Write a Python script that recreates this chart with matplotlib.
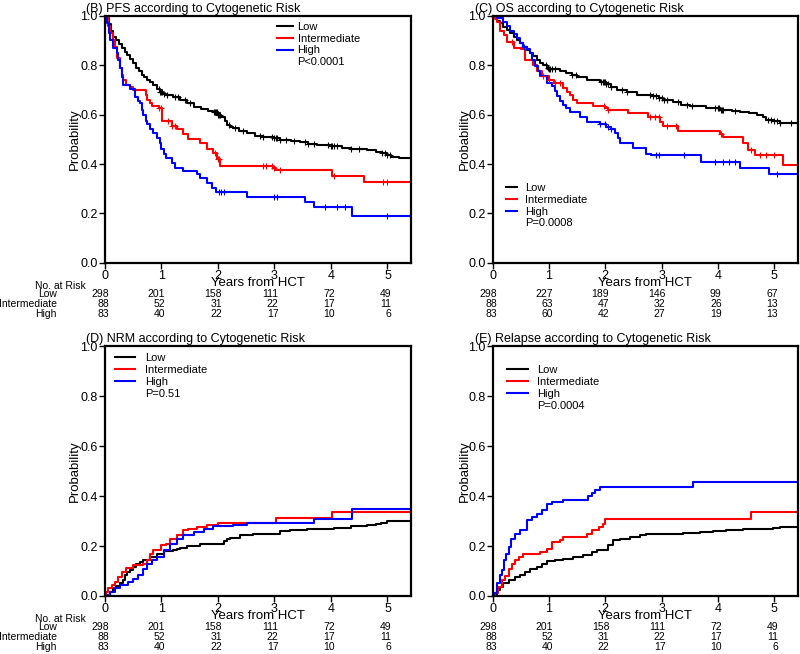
import numpy as np
import matplotlib
matplotlib.use("Agg")
import matplotlib.pyplot as plt
from matplotlib.lines import Line2D

plt.rcParams['font.family'] = ['Liberation Sans', 'DejaVu Sans']

groups = ['Low', 'Intermediate', 'High']
colores = ['black', 'red', 'blue']
years = [0, 1, 2, 3, 4, 5]

# PFS (B)
pfs_low_t = [0, 0.03, 0.07, 0.11, 0.15, 0.2, 0.25, 0.3, 0.35, 0.4, 0.45, 0.5, 0.55, 0.6, 0.65, 0.7, 0.75, 0.8,
             0.86, 0.92, 0.97, 1.03, 1.09, 1.2, 1.33, 1.45, 1.57, 1.7, 1.82, 1.92, 2.0, 2.06, 2.12, 2.16, 2.22,
             2.27, 2.38, 2.51, 2.65, 2.8, 3.0, 3.1, 3.3, 3.46, 3.6, 3.76, 4.0, 4.2, 4.35, 4.64, 4.8, 4.9, 5.0,
             5.06, 5.2]
pfs_low_s = [1.0, 0.99, 0.965, 0.94, 0.915, 0.9, 0.885, 0.87, 0.855, 0.84, 0.825, 0.808, 0.79, 0.775, 0.76,
             0.75, 0.74, 0.73, 0.72, 0.705, 0.693, 0.685, 0.678, 0.67, 0.66, 0.645, 0.632, 0.622, 0.615, 0.61,
             0.6, 0.59, 0.575, 0.558, 0.55, 0.545, 0.533, 0.524, 0.515, 0.51, 0.505, 0.498, 0.493, 0.49, 0.483,
             0.478, 0.473, 0.465, 0.46, 0.457, 0.45, 0.445, 0.437, 0.43, 0.423]
pfs_int_t = [0, 0.06, 0.09, 0.14, 0.18, 0.22, 0.27, 0.3, 0.33, 0.38, 0.45, 0.5, 0.72, 0.75, 0.8, 0.83, 0.95,
             1.02, 1.18, 1.27, 1.39, 1.48, 1.69, 1.8, 1.92, 1.99, 2.04, 2.98, 3.02, 4.02, 4.59]
pfs_int_s = [1.0, 0.96, 0.93, 0.9, 0.875, 0.83, 0.79, 0.76, 0.74, 0.72, 0.71, 0.7, 0.68, 0.66, 0.645, 0.635,
             0.625, 0.575, 0.555, 0.54, 0.52, 0.5, 0.485, 0.46, 0.445, 0.42, 0.393, 0.385, 0.377, 0.353, 0.326]
pfs_high_t = [0, 0.04, 0.07, 0.1, 0.15, 0.21, 0.24, 0.27, 0.31, 0.33, 0.45, 0.53, 0.58, 0.62, 0.66, 0.68,
              0.72, 0.74, 0.8, 0.86, 0.92, 0.97, 1.0, 1.05, 1.09, 1.18, 1.24, 1.39, 1.63, 1.69, 1.8, 1.89,
              1.97, 2.51, 3.55, 3.7, 4.38]
pfs_high_s = [1.0, 0.97, 0.93, 0.9, 0.87, 0.85, 0.82, 0.79, 0.75, 0.72, 0.705, 0.67, 0.655, 0.645, 0.62, 0.6,
              0.575, 0.56, 0.54, 0.525, 0.505, 0.485, 0.46, 0.44, 0.425, 0.405, 0.385, 0.37, 0.36, 0.343,
              0.323, 0.303, 0.285, 0.266, 0.246, 0.226, 0.19]
pfs_low_cens = [0.95, 0.98, 1.0, 1.02, 1.05, 1.1, 1.25, 1.3, 1.42, 1.5, 1.93, 1.95, 1.97, 1.99, 2.0, 2.02,
                2.04, 2.2, 2.3, 2.45, 2.75, 2.8, 2.95, 3.0, 3.02, 3.05, 3.1, 3.2, 3.35, 3.55, 3.6, 3.7, 3.95,
                4.0, 4.02, 4.05, 4.1, 4.35, 4.5, 4.9, 4.95, 5.0, 5.05]
pfs_int_cens = [0.95, 1.0, 1.12, 1.18, 1.25, 1.95, 2.0, 2.02, 2.8, 2.85, 2.95, 3.0, 3.1, 4.05, 4.92, 5.0]
pfs_high_cens = [2.02, 2.05, 2.1, 3.0, 3.05, 3.9, 4.1, 4.25, 5.0]

# OS (C)
os_low_t = [0, 0.04, 0.07, 0.13, 0.19, 0.25, 0.31, 0.37, 0.43, 0.49, 0.54, 0.6, 0.66, 0.72, 0.78, 0.84, 0.9,
            0.96, 1.0, 1.2, 1.31, 1.4, 1.49, 1.67, 1.9, 2.02, 2.1, 2.2, 2.38, 2.56, 2.85, 2.95, 3.03, 3.21,
            3.35, 3.5, 3.8, 4.04, 4.25, 4.39, 4.55, 4.69, 4.8, 4.86, 5.0, 5.1]
os_low_s = [1.0, 0.99, 0.98, 0.97, 0.955, 0.943, 0.93, 0.915, 0.9, 0.888, 0.875, 0.862, 0.85, 0.835, 0.82,
            0.81, 0.8, 0.79, 0.785, 0.778, 0.77, 0.76, 0.75, 0.74, 0.73, 0.723, 0.71, 0.7, 0.69, 0.68, 0.675,
            0.668, 0.66, 0.65, 0.64, 0.635, 0.625, 0.62, 0.615, 0.61, 0.605, 0.6, 0.59, 0.58, 0.573, 0.565]
os_int_t = [0, 0.04, 0.07, 0.12, 0.2, 0.25, 0.37, 0.51, 0.57, 0.72, 0.78, 0.87, 1.0, 1.08, 1.25, 1.32, 1.37,
            1.43, 1.49, 1.79, 1.99, 2.05, 2.41, 2.76, 2.97, 3.03, 3.3, 4.04, 4.09, 4.45, 4.54, 4.66, 5.16]
os_int_s = [1.0, 0.985, 0.975, 0.94, 0.92, 0.895, 0.87, 0.865, 0.82, 0.8, 0.775, 0.755, 0.74, 0.727, 0.707,
            0.69, 0.68, 0.66, 0.645, 0.635, 0.625, 0.62, 0.605, 0.59, 0.57, 0.555, 0.535, 0.52, 0.51, 0.485,
            0.455, 0.435, 0.395]
os_high_t = [0, 0.07, 0.19, 0.25, 0.31, 0.37, 0.43, 0.49, 0.54, 0.6, 0.66, 0.7, 0.75, 0.8, 0.84, 0.96, 1.05,
             1.1, 1.14, 1.2, 1.25, 1.3, 1.37, 1.55, 1.67, 1.9, 2.02, 2.1, 2.17, 2.22, 2.26, 2.5, 2.73, 2.82,
             3.71, 4.39, 4.92]
os_high_s = [1.0, 0.99, 0.975, 0.96, 0.94, 0.925, 0.91, 0.89, 0.875, 0.865, 0.85, 0.82, 0.795, 0.775, 0.755,
             0.727, 0.715, 0.695, 0.675, 0.655, 0.64, 0.625, 0.61, 0.59, 0.57, 0.56, 0.55, 0.54, 0.525, 0.505,
             0.485, 0.465, 0.44, 0.435, 0.41, 0.385, 0.36]
os_low_cens = [0.95, 0.98, 1.0, 1.02, 1.05, 1.1, 1.4, 1.48, 1.93, 1.96, 1.98, 2.0, 2.02, 2.05, 2.1, 2.3, 2.38,
               2.8, 2.85, 2.9, 2.95, 3.0, 3.05, 3.1, 3.3, 3.45, 3.55, 3.95, 4.0, 4.02, 4.05, 4.08, 4.1, 4.3,
               4.9, 4.95, 5.0, 5.05, 5.1, 5.3]
os_int_cens = [0.35, 0.9, 1.0, 1.1, 1.2, 1.98, 2.05, 2.8, 2.88, 2.95, 3.1, 3.25, 4.05, 4.6, 4.75, 4.85, 5.0]
os_high_cens = [0.55, 1.9, 2.0, 2.05, 2.1, 2.9, 2.95, 3.4, 3.95, 4.1, 4.2, 4.3, 5.05]

# NRM (D)
nrm_low_t = [0, 0.05, 0.1, 0.15, 0.2, 0.27, 0.32, 0.36, 0.4, 0.44, 0.5, 0.56, 0.62, 0.68, 0.8, 0.92, 1.04,
             1.21, 1.27, 1.33, 1.45, 1.69, 1.98, 2.1, 2.16, 2.22, 2.4, 2.63, 2.99, 3.1, 3.28, 3.58, 4.05, 4.35,
             4.64, 4.8, 4.88, 5.0]
nrm_low_s = [0, 0.005, 0.015, 0.03, 0.04, 0.05, 0.065, 0.085, 0.095, 0.104, 0.117, 0.13, 0.138, 0.144, 0.157,
             0.17, 0.18, 0.183, 0.19, 0.194, 0.202, 0.208, 0.21, 0.22, 0.228, 0.234, 0.243, 0.247, 0.25, 0.26,
             0.266, 0.27, 0.274, 0.28, 0.283, 0.288, 0.293, 0.3]
nrm_int_t = [0, 0.02, 0.06, 0.12, 0.18, 0.24, 0.3, 0.38, 0.5, 0.68, 0.74, 0.8, 0.86, 1.0, 1.09, 1.15, 1.27,
             1.39, 1.48, 1.63, 1.8, 2.01, 3.02, 4.02]
nrm_int_s = [0, 0.017, 0.03, 0.044, 0.057, 0.077, 0.097, 0.114, 0.124, 0.13, 0.144, 0.17, 0.184, 0.204, 0.21,
             0.23, 0.244, 0.264, 0.27, 0.277, 0.284, 0.294, 0.313, 0.337]
nrm_high_t = [0, 0.05, 0.09, 0.18, 0.27, 0.41, 0.5, 0.59, 0.68, 0.74, 0.83, 0.92, 1.04, 1.15, 1.27, 1.39,
              1.57, 1.75, 1.92, 2.27, 2.51, 3.7, 4.38]
nrm_high_s = [0, 0.004, 0.017, 0.03, 0.044, 0.057, 0.07, 0.084, 0.11, 0.13, 0.144, 0.157, 0.184, 0.21, 0.23,
              0.244, 0.257, 0.27, 0.28, 0.284, 0.293, 0.31, 0.347]

# Relapse (E)
rel_low_t = [0, 0.04, 0.07, 0.13, 0.19, 0.28, 0.4, 0.49, 0.57, 0.66, 0.78, 0.87, 0.96, 1.1, 1.25, 1.43, 1.61,
             1.76, 1.85, 1.96, 2.05, 2.14, 2.26, 2.44, 2.62, 2.73, 3.38, 3.68, 3.92, 4.15, 4.45, 4.98, 5.1]
rel_low_s = [0, 0.005, 0.024, 0.037, 0.05, 0.064, 0.075, 0.084, 0.097, 0.107, 0.117, 0.13, 0.14, 0.146, 0.15,
             0.157, 0.166, 0.176, 0.184, 0.186, 0.204, 0.224, 0.23, 0.237, 0.244, 0.247, 0.253, 0.257, 0.26,
             0.266, 0.27, 0.274, 0.277]
rel_int_t = [0, 0.04, 0.1, 0.16, 0.22, 0.28, 0.34, 0.4, 0.46, 0.54, 0.84, 0.96, 1.05, 1.2, 1.25, 1.67, 1.76,
             1.88, 1.96, 2.0, 4.6]
rel_int_s = [0, 0.01, 0.037, 0.064, 0.08, 0.11, 0.13, 0.144, 0.157, 0.167, 0.176, 0.19, 0.217, 0.224, 0.237,
             0.25, 0.264, 0.277, 0.29, 0.31, 0.337]
rel_high_t = [0, 0.03, 0.07, 0.12, 0.16, 0.2, 0.24, 0.28, 0.32, 0.4, 0.49, 0.6, 0.69, 0.78, 0.87, 0.96, 1.05,
              1.25, 1.7, 1.76, 1.82, 1.9, 3.56]
rel_high_s = [0, 0.01, 0.05, 0.084, 0.104, 0.144, 0.17, 0.197, 0.23, 0.247, 0.264, 0.304, 0.317, 0.33, 0.344,
              0.368, 0.377, 0.386, 0.4, 0.413, 0.424, 0.437, 0.457]

# numero en riesgo
pfs_risk = [[298, 201, 158, 111, 72, 49], [88, 52, 31, 22, 17, 11], [83, 40, 22, 17, 10, 6]]
os_risk = [[298, 227, 189, 146, 99, 67], [88, 63, 47, 32, 26, 13], [83, 60, 42, 27, 19, 13]]
nrm_risk = pfs_risk
rel_risk = pfs_risk


def valor_en(t, s, c):
    idx = np.searchsorted(t, c, side='right') - 1
    return np.array(s)[idx]


def panel(ax, titulo, curvas, censuras, riesgo, pval, leg_pos, leg_len, leg_pad, con_etiquetas, ylab_x):
    for (t, s), col in zip(curvas, colores):
        ax.step(t + [5.45], s + [s[-1]], where='post', color=col, lw=1.5)
    for (t, s), c, col in zip(curvas, censuras, colores):
        if c:
            ax.plot(c, valor_en(t, s, c), ls='none', marker='+', ms=5, mew=0.8, color=col)

    ax.set_xlim(0, 5.42)
    ax.set_ylim(0, 1)
    ax.set_xticks(years)
    ax.set_yticks([0, 0.2, 0.4, 0.6, 0.8, 1.0])
    ax.set_yticklabels(['0.0', '0.2', '0.4', '0.6', '0.8', '1.0'])
    ax.tick_params(direction='out', length=4, width=1, labelsize=9, pad=1)
    for sp in ax.spines.values():
        sp.set_linewidth(1.6)

    ax.text(-0.06, 1.003, titulo, transform=ax.transAxes, ha='left', va='bottom', fontsize=9)
    ax.text(ylab_x, 0.5, 'Probability', transform=ax.transAxes, rotation=90,
            ha='center', va='center', fontsize=9.5)
    ax.text(0.5, -0.081, 'Years from HCT', transform=ax.transAxes, ha='center', va='center', fontsize=9.5)

    handles = [Line2D([], [], color=c, lw=1.5) for c in colores]
    handles.append(Line2D([], [], color='none'))
    ax.legend(handles, groups + [pval], loc='upper left', bbox_to_anchor=leg_pos, frameon=False,
              fontsize=8, handlelength=leg_len, handletextpad=leg_pad, labelspacing=0.17,
              borderpad=0, borderaxespad=0)

    offs = [-31, -41, -51]
    if con_etiquetas:
        ax.annotate('No. at Risk', xy=(0, 0), xycoords=('data', 'axes fraction'), xytext=(-70, -23),
                    textcoords='offset pixels', ha='left', va='center', fontsize=7.5, annotation_clip=False)
    for fila, nombre, dy in zip(riesgo, groups, offs):
        if con_etiquetas:
            ax.annotate(nombre, xy=(0, 0), xycoords=('data', 'axes fraction'), xytext=(-48, dy),
                        textcoords='offset pixels', ha='right', va='center', fontsize=7.5,
                        annotation_clip=False)
        for yr, n in zip(years, fila):
            ax.annotate(str(n), xy=(yr, 0), xycoords=('data', 'axes fraction'), xytext=(4, dy),
                        textcoords='offset pixels', ha='right', va='center', fontsize=7.5,
                        annotation_clip=False)


fig = plt.figure(figsize=(8, 6.54), dpi=100)
ax_b = fig.add_axes([0.131, 0.598, 0.383, 0.378])
ax_c = fig.add_axes([0.616, 0.598, 0.381, 0.378])
ax_d = fig.add_axes([0.131, 0.0887, 0.383, 0.382])
ax_e = fig.add_axes([0.616, 0.0887, 0.381, 0.382])

panel(ax_b, '(B) PFS according to Cytogenetic Risk',
      [(pfs_low_t, pfs_low_s), (pfs_int_t, pfs_int_s), (pfs_high_t, pfs_high_s)],
      [pfs_low_cens, pfs_int_cens, pfs_high_cens], pfs_risk, 'P<0.0001',
      (0.562, 0.976), 1.45, 0.4, True, -0.098)
panel(ax_c, '(C) OS according to Cytogenetic Risk',
      [(os_low_t, os_low_s), (os_int_t, os_int_s), (os_high_t, os_high_s)],
      [os_low_cens, os_int_cens, os_high_cens], os_risk, 'P=0.0008',
      (0.043, 0.324), 1.0, 0.7, False, -0.092)
panel(ax_d, '(D) NRM according to Cytogenetic Risk',
      [(nrm_low_t, nrm_low_s), (nrm_int_t, nrm_int_s), (nrm_high_t, nrm_high_s)],
      [[], [], []], nrm_risk, 'P=0.51',
      (0.033, 0.972), 1.8, 0.9, True, -0.098)
panel(ax_e, '(E) Relapse according to Cytogenetic Risk',
      [(rel_low_t, rel_low_s), (rel_int_t, rel_int_s), (rel_high_t, rel_high_s)],
      [[], [], []], rel_risk, 'P=0.0004',
      (0.046, 0.924), 1.9, 0.8, False, -0.092)

fig.savefig('out.png', dpi=100)
